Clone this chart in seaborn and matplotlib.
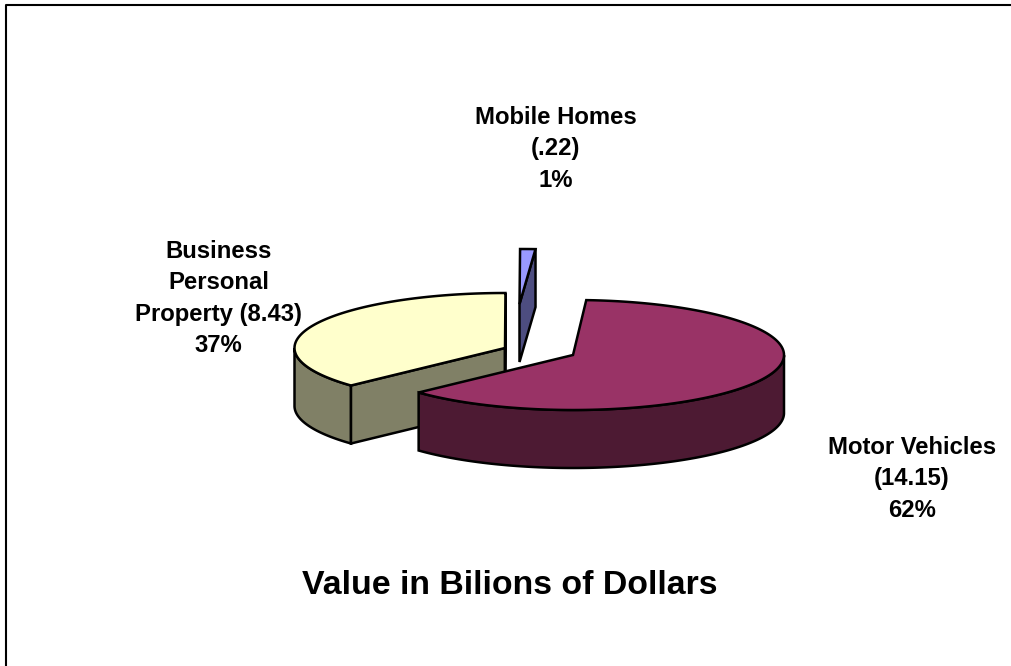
import numpy as np
import matplotlib
matplotlib.use("Agg")
import matplotlib.pyplot as plt
import seaborn as sns

# Data, clockwise from the top of the pie
categories = ["Motor Vehicles", "Business Personal Property", "Mobile Homes"]
values = [14.15, 8.43, 0.22]
labels = ["Motor Vehicles\n(14.15)\n62%", "Business\nPersonal\nProperty (8.43)\n37%", "Mobile Homes\n(.22)\n1%"]
title = "Value in Bilions of Dollars"

# Colours, exploded apex and horizontal radius of each slice (same order as categories)
top_colours = ["#993366", "#FFFFCC", "#9999FF"]
side_colours = ["#4D1A33", "#808066", "#4D4D80"]
apexes = [(573, 355), (505, 348), (519.5, 304)]
radii = [211, 210.5, 255]
label_pos = [(912, 479), (218.5, 298.5), (556, 149)]

RY, DEPTH = 55, 58
START_ANGLE = 86.4
LW = 1.8


def draw_slice(ax, apex, rx, t1, t2, top, side):
    # Rim of the slice, angles in degrees going clockwise from t1 to t2
    t = np.linspace(t1, t2, 300)
    x = apex[0] + rx * np.cos(np.radians(t))
    y = apex[1] - RY * np.sin(np.radians(t))

    # Outer wall, only the part of the rim that faces the viewer
    front = np.sin(np.radians(t)) <= 0
    if front.any():
        fx, fy = x[front], y[front]
        ax.fill(np.r_[fx, fx[::-1]], np.r_[fy, fy[::-1] + DEPTH], facecolor=side, edgecolor="black", linewidth=LW)

    # Cut walls, drawn only when they face the viewer
    if np.sin(np.radians(t1 + 90)) < -1e-6:
        ax.fill([apex[0], x[0], x[0], apex[0]], [apex[1], y[0], y[0] + DEPTH, apex[1] + DEPTH], facecolor=side, edgecolor="black", linewidth=LW)
    if np.sin(np.radians(t2 - 90)) < -1e-6:
        ax.fill([apex[0], x[-1], x[-1], apex[0]], [apex[1], y[-1], y[-1] + DEPTH, apex[1] + DEPTH], facecolor=side, edgecolor="black", linewidth=LW)

    # Top face
    ax.fill(np.r_[apex[0], x], np.r_[apex[1], y], facecolor=top, edgecolor="black", linewidth=LW)


def main():
    sns.set_theme(style="white")
    plt.rcParams["font.family"] = ["Liberation Sans", "DejaVu Sans"]

    fig = plt.figure(figsize=(10.12, 6.66), dpi=100)
    ax = fig.add_axes([0, 0, 1, 1])
    ax.set_xlim(0, 1012)
    ax.set_ylim(666, 0)
    ax.axis("off")

    # Chart frame, only the left and top edges are in the picture
    ax.plot([6.5, 6.5, 1012], [666, 4.5, 4.5], color="black", linewidth=1.5)

    # Slice angles come from the values
    spans = np.array(values) / sum(values) * 360
    ends = START_ANGLE - np.cumsum(spans)
    starts = np.r_[START_ANGLE, ends[:-1]]

    # Back to front: property, mobile homes, motor vehicles
    for i in [1, 2, 0]:
        draw_slice(ax, apexes[i], radii[i], starts[i], ends[i], top_colours[i], side_colours[i])

    # Slice labels
    for text, (x, y) in zip(labels, label_pos):
        ax.text(x, y, text, ha="center", va="center", fontsize=17.2, fontweight="bold", color="black", linespacing=1.45)

    # Chart title
    ax.text(509.5, 585, title, ha="center", va="center", fontsize=24.4, fontweight="bold", color="black")

    fig.savefig("out.png", dpi=100)


if __name__ == "__main__":
    main()
